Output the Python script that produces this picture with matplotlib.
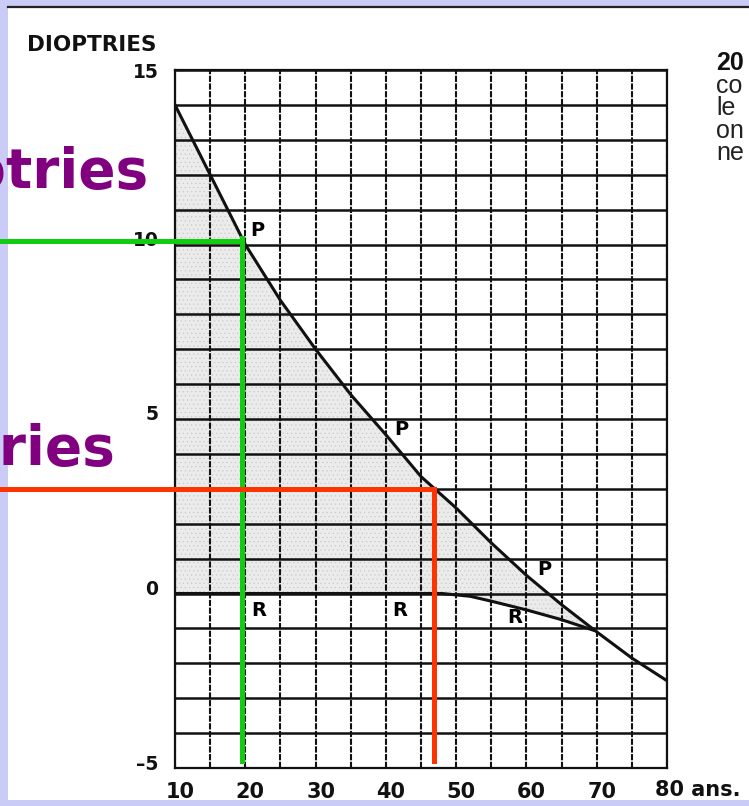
import numpy as np
import matplotlib
matplotlib.use('Agg')
import matplotlib.pyplot as plt
from matplotlib.patches import Rectangle
from matplotlib.lines import Line2D
from matplotlib.transforms import ScaledTranslation

# courbe du punctum proximum (P) et du punctum remotum (R) selon l'âge
ages_p = [10, 15, 20, 25, 30, 35, 40, 45, 50, 55, 60, 65, 70, 75, 80]
dioptries_p = [14, 12, 10, 8.4, 7, 5.7, 4.55, 3.35, 2.45, 1.45, 0.52, -0.32, -1.1, -1.85, -2.5]

ages_r = [10, 20, 30, 40, 48, 52, 55, 60, 65, 69.5]
dioptries_r = [0, 0, 0, 0, 0, -0.08, -0.22, -0.47, -0.75, -1.05]

# repères tracés à la main (âge, dioptries)
vert_age, vert_dio = 19.6, 10.1
rouge_age, rouge_dio = 46.9, 3.0
bas_repere = -4.8

# étiquettes P et R
labels_p = [(21.7, 10.4), (42.2, 4.7), (62.6, 0.7)]
labels_r = [(21.9, -0.5), (42.0, -0.5), (58.4, -0.7)]

xticks = [10, 20, 30, 40, 50, 60, 70, 80]
yticks = [-5, 0, 5, 10, 15]

W, H = 749, 806
plt.rcParams['hatch.linewidth'] = 0.4
fig = plt.figure(figsize=(W / 100, H / 100), dpi=100)
fig.patch.set_facecolor('#cbcbf7')

# feuille blanche sur fond lavande
fig.add_artist(Rectangle((8 / W, 1 - 800 / H), 1, 793 / H, transform=fig.transFigure,
                         facecolor='white', edgecolor='none', zorder=0))
fig.add_artist(Line2D([8 / W, 1], [1 - 6.5 / H, 1 - 6.5 / H], transform=fig.transFigure,
                      color='#222222', lw=1.6, zorder=1))

ax = fig.add_axes([175 / W, 1 - 768 / H, 492 / W, 698 / H])
ax.set_xlim(10, 80)
ax.set_ylim(-5, 15)
ax.set_facecolor('none')

# zone grisée entre P et R
poly_x = [a for a in ages_p if a <= 65] + [ages_r[-1]] + ages_r[::-1]
poly_y = [d for a, d in zip(ages_p, dioptries_p) if a <= 65] + [dioptries_r[-1]] + dioptries_r[::-1]
ax.fill(poly_x, poly_y, facecolor='#ebebeb', edgecolor='#cacaca', hatch='....', lw=0, zorder=1)

# quadrillage
ax.set_xticks(xticks)
ax.set_xticks(np.arange(15, 80, 10), minor=True)
ax.set_yticks(yticks)
ax.set_yticks(np.arange(-5, 16, 1), minor=True)
ax.grid(which='both', axis='x', color='#111111', lw=1.5, ls=(0, (3, 0.7)), zorder=2)
ax.grid(which='both', axis='y', color='#111111', lw=1.8, zorder=2)
ax.set_axisbelow(False)
for s in ax.spines.values():
    s.set_color('#111111')
    s.set_linewidth(1.6)
ax.tick_params(which='both', length=0)
ax.tick_params(axis='y', pad=12)
ax.tick_params(axis='x', pad=10)

ax.set_xticklabels([str(t) for t in xticks[:-1]] + [''],
                   fontsize=15, fontweight='bold', color='#111111')
ax.set_yticklabels([str(t).replace('-', '\u2013') for t in yticks],
                   fontsize=13.5, fontweight='bold', color='#111111')
for lab in ax.get_xticklabels():
    lab.set_transform(lab.get_transform() + ScaledTranslation(5 / 100, 0, fig.dpi_scale_trans))
for lab in ax.get_yticklabels()[:-1]:
    lab.set_transform(lab.get_transform() + ScaledTranslation(0, 6 / 100, fig.dpi_scale_trans))
ax.annotate('80 ans.', xy=(80, -5), xytext=(-12, -22), textcoords='offset pixels',
            ha='left', va='center', fontsize=15, fontweight='bold', color='#111111',
            annotation_clip=False)
fig.text(27 / W, 1 - 45 / H, 'DIOPTRIES', fontsize=15.5, fontweight='bold',
         color='#111111', ha='left', va='center')

# courbes
ax.plot(ages_p, dioptries_p, color='#111111', lw=2.2, zorder=4, solid_joinstyle='round')
ax.plot(ages_r, dioptries_r, color='#111111', lw=2.2, zorder=4, solid_joinstyle='round')
for x, y in labels_p:
    ax.text(x, y, 'P', fontsize=14, fontweight='bold', ha='center', va='center', zorder=5)
for x, y in labels_r:
    ax.text(x, y, 'R', fontsize=14, fontweight='bold', ha='center', va='center', zorder=5)

# repères vert et rouge
ax.plot([-30, vert_age], [vert_dio, vert_dio], color='#11cc11', lw=3.6, clip_on=False, zorder=6)
ax.plot([vert_age, vert_age], [vert_dio + 0.1, bas_repere], color='#11cc11', lw=3.6,
        clip_on=False, zorder=6)
ax.plot([-30, rouge_age], [rouge_dio, rouge_dio], color='#ff3300', lw=3.6, clip_on=False, zorder=6)
ax.plot([rouge_age, rouge_age], [rouge_dio, bas_repere], color='#ff3300', lw=3.6,
        clip_on=False, zorder=6)

# textes violets
fig.text(148 / W, 1 - 188 / H, '10 dioptries', fontsize=39.5, fontweight='bold',
         color='#800080', ha='right', va='baseline', zorder=7)
fig.text(115 / W, 1 - 465 / H, '3 dioptries', fontsize=39.5, fontweight='bold',
         color='#800080', ha='right', va='baseline', zorder=7)

# texte de la page à droite
fig.text(716 / W, 1 - 70 / H, '20', fontsize=18, fontweight='bold', family='Liberation Sans',
         color='#111111', ha='left', va='baseline')
for i, mot in enumerate(['co', 'le']):
    fig.text(716 / W, 1 - (93 + 22 * i) / H, mot, fontsize=18, family='Liberation Sans',
             color='#222222', ha='left', va='baseline')
for i, mot in enumerate(['on', 'ne']):
    fig.text(716 / W, 1 - (138 + 22 * i) / H, mot, fontsize=18, family='Liberation Sans',
             color='#222222', ha='left', va='baseline')

fig.savefig('out.png', dpi=100, facecolor=fig.get_facecolor())
